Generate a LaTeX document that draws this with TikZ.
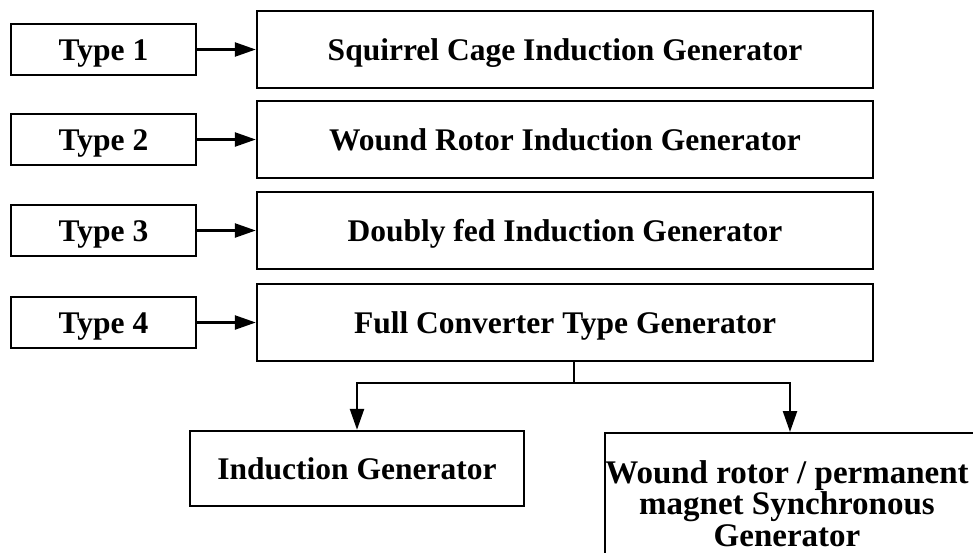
\documentclass[tikz,border=0pt]{standalone}
\usepackage{fontspec}
\setmainfont{Liberation Serif}
\usetikzlibrary{arrows.meta}
\begin{document}
\begin{tikzpicture}[x=1pt,y=-1pt,
  lw/.style={line width=2.4pt},
  txt/.style={font=\fontsize{31.5}{32}\selectfont\bfseries},
  boxtxt/.style={txt,text height=22.5pt,text depth=1.5pt},
  typebox/.style={draw,lw,boxtxt,minimum width=185pt,minimum height=51pt,inner sep=0pt},
  genbox/.style={draw,lw,boxtxt,minimum width=616pt,minimum height=77pt,inner sep=0pt},
  conn/.style={lw,-{Triangle[length=21pt,width=14pt]}}]
\useasboundingbox (0,0) rectangle (973,552);
\node[typebox] (t1) at (103.5,49.5) {Type 1};
\node[typebox] (t2) at (103.5,139.5) {Type 2};
\node[typebox] (t3) at (103.5,230.5) {Type 3};
\node[typebox] (t4) at (103.5,322.5) {Type 4};
\node[genbox] (g1) at (565,49.5) {Squirrel Cage Induction Generator};
\node[genbox] (g2) at (565,139.5) {Wound Rotor Induction Generator};
\node[genbox] (g3) at (565,230.5) {Doubly fed Induction Generator};
\node[genbox] (g4) at (565,322.5) {Full Converter Type Generator};
\draw[conn] (t1) -- (g1);
\draw[conn] (t2) -- (g2);
\draw[conn] (t3) -- (g3);
\draw[conn] (t4) -- (g4);
\node[draw,lw,boxtxt,minimum width=334pt,minimum height=75pt,inner sep=0pt] (ig) at (357,468.5) {Induction Generator};
\node[draw,lw,anchor=north west,minimum width=400pt,minimum height=150pt] (wrbox) at (604,432) {};
\node[font=\fontsize{33}{31.5}\selectfont\bfseries,align=center,inner sep=0pt] (wr) at (787,503.5) {Wound rotor / permanent\\magnet Synchronous\\Generator};
\coordinate (split) at (574,383);
\coordinate (wrtop) at (790,432);
\draw[lw] (g4.south -| split) -- (split);
\draw[conn] (split) -| (ig.north);
\draw[conn] (split) -| (wrtop);
\end{tikzpicture}
\end{document}
